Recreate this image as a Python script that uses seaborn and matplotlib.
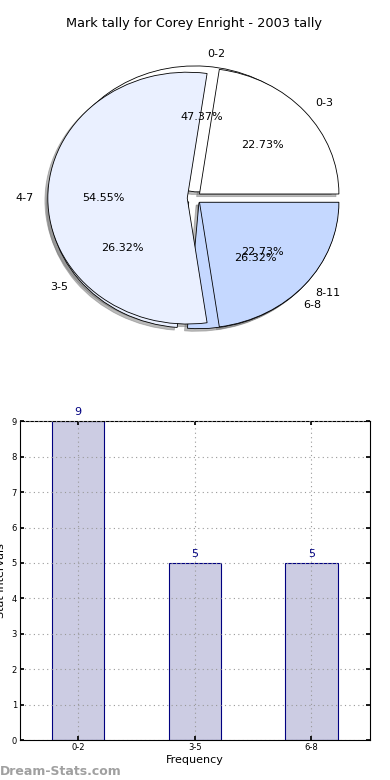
import numpy as np
import pandas as pd
import seaborn as sns
import matplotlib.pyplot as plt

# -------------------------
# Data
# -------------------------
bins_a = ['0-2', '3-5', '6-8']
counts_a = [9, 5, 5]
bins_b = ['0-3', '4-7', '8-11']
counts_b = [5, 12, 5]
pie_colors = ['#ffffff', '#eaf0ff', '#c5d8ff']

bar_df = pd.DataFrame({'interval': bins_a, 'count': counts_a})

sns.set_theme(style="white")
plt.rcParams['font.family'] = ['DejaVu Sans']
plt.rcParams['text.color'] = 'black'
plt.rcParams['axes.labelcolor'] = 'black'
plt.rcParams['xtick.color'] = 'black'
plt.rcParams['ytick.color'] = 'black'

fig = plt.figure(figsize=(3.9, 7.8), dpi=100)

# -------------------------
# Pie (two tallies overlaid)
# -------------------------
ax1 = fig.add_axes([0.044, 0.541, 0.908, 0.41])
for vals, labs in [(counts_a, bins_a), (counts_b, bins_b)]:
    wedges, texts, autotexts = ax1.pie(
        vals, labels=labs, colors=pie_colors, explode=[0.05] * 3,
        autopct='%1.2f%%', shadow={'ox': -0.015, 'oy': -0.015, 'color': '#777777'},
        startangle=0,
        wedgeprops={'edgecolor': 'black', 'linewidth': 0.6},
        textprops={'fontsize': 8, 'color': 'black'})
ax1.set_aspect('auto')
ax1.set_xlim(-1.27, 1.27)
ax1.set_ylim(-1.27, 1.27)
ax1.set_title('Mark tally for Corey Enright - 2003 tally', fontsize=9.3, pad=8)

# -------------------------
# Bar chart
# -------------------------
ax2 = fig.add_axes([0.051, 0.051, 0.897, 0.409])
sns.barplot(data=bar_df, x='interval', y='count', ax=ax2, color='#cccce3',
            edgecolor='navy', linewidth=0.8, width=0.45, saturation=1)
ax2.bar_label(ax2.containers[0], padding=3, color='navy', fontsize=8)
ax2.set_xlim(-0.5, 2.5)
ax2.set_ylim(0, 9)
ax2.set_yticks(range(10))
ax2.grid(True, linestyle=(0, (1, 3)), color='#999999', linewidth=0.8)
ax2.set_axisbelow(False)
for b in ax2.patches:
    b.set_zorder(0.5)
ax2.tick_params(direction='in', labelsize=6, length=3, top=True, right=True,
                bottom=True, left=True, pad=2)
for s in ax2.spines.values():
    s.set_color('black')
    s.set_linewidth(0.8)
ax2.set_xlabel('Frequency', fontsize=8, labelpad=2)
ax2.set_ylabel('Stat Intervals', fontsize=8, labelpad=4)

fig.text(0.0, 0.007, 'Dream-Stats.com', fontsize=9, color='#a0a0a0', fontweight='bold')

fig.savefig('out.png', dpi=100)
